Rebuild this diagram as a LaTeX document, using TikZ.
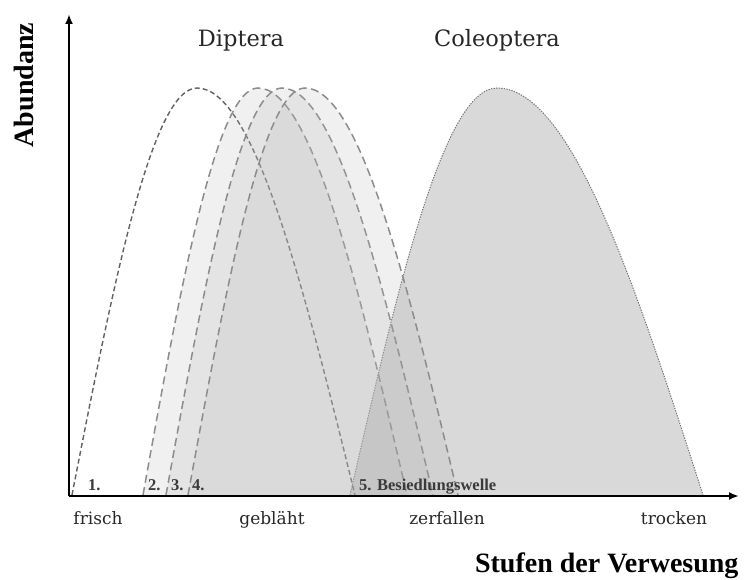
\documentclass[tikz,border=0pt]{standalone}
\usepackage{fontspec}
\setmainfont{Liberation Serif}
\newfontfamily\dejaserif{DejaVu Serif}
\usetikzlibrary{arrows.meta}
\definecolor{labgray}{HTML}{3A3A3A}
\definecolor{colfill}{HTML}{D9D9D9}
\tikzset{
  axisline/.style={line width=2pt, draw=black, -{Latex[length=10pt,width=8pt]}},
  wave/.style={draw=black!45, line width=1.5pt, dash pattern=on 8pt off 4.5pt, fill={rgb,255:red,180;green,180;blue,180}, fill opacity=0.2},
  firstwave/.style={draw=black!62, line width=1.4pt, dash pattern=on 5pt off 3pt},
  colwave/.style={draw=black!55, line width=1pt, dash pattern=on 1.3pt off 1.3pt, fill=colfill},
  title/.style={font=\dejaserif\fontsize{22.5}{22.5}\selectfont, text=black!85, anchor=base},
  stage/.style={font=\dejaserif\fontsize{17}{17}\selectfont, text=black!85, anchor=base},
  wavelab/.style={font=\bfseries\fontsize{16.5}{16.5}\selectfont, text=labgray, anchor=base west, inner sep=0pt},
  axlab/.style={font=\bfseries\fontsize{28}{28}\selectfont, text=black}
}
\begin{document}
\begin{tikzpicture}[x=1pt,y=-1pt]
\useasboundingbox (0,0) rectangle (745,580);
% Coleoptera
\path[colwave] (350,495) sin (497,88) cos (703,495);
% Diptera waves
\path[firstwave] (72,495) sin (197,88) cos (355,495);
\path[wave] (143,495) sin (258,88) cos (407,495);
\path[wave] (166,495) sin (282,88) cos (433,495);
\path[wave] (188,495) sin (305,88) cos (458,495);
% axes
\coordinate (O) at (69,496);
\coordinate (Y) at (69,14);
\coordinate (X) at (739,496);
\draw[axisline] (O) -- (Y);
\draw[axisline] (O) -- (X);
% titles
\node[title] (dip) at (241,47) {Diptera};
\node[title] (col) at (497,47) {Coleoptera};
% stages
\node[stage] (s1) at (98,524) {frisch};
\node[stage] (s2) at (272,524) {gebläht};
\node[stage] (s3) at (447,524) {zerfallen};
\node[stage] (s4) at (674,524) {trocken};
% wave labels
\node[wavelab] (w1) at (88,490) {1.};
\node[wavelab] (w2) at (148,490) {2.};
\node[wavelab] (w3) at (171,490) {3.};
\node[wavelab] (w4) at (192,490) {4.};
\node[wavelab] (w5) at (359,490) {5. Besiedlungswelle};
% axis labels
\node[axlab, rotate=90, anchor=base] (ab) at (33,85) {Abundanz};
\node[axlab, anchor=base east] (sv) at (742,572) {Stufen der Verwesung};
\end{tikzpicture}
\end{document}
